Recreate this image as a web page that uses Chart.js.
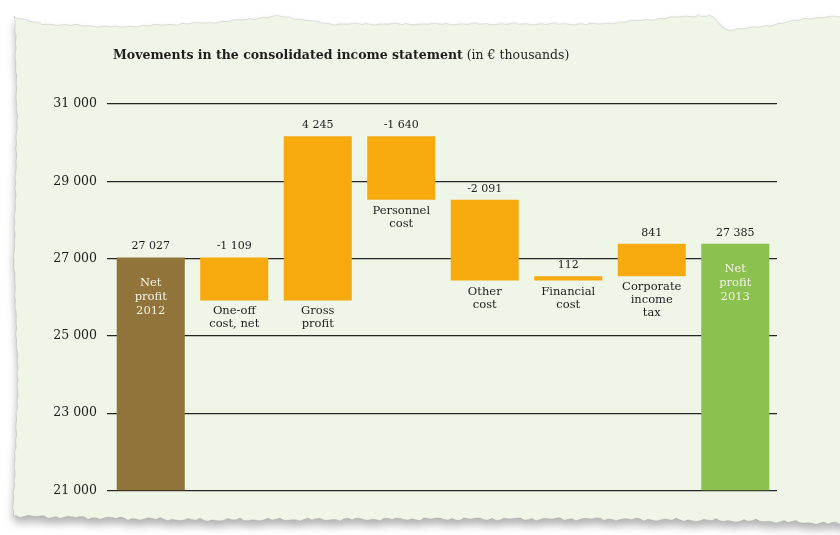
<!DOCTYPE html>
<html>
<head>
<meta charset="utf-8">
<script src="https://cdn.jsdelivr.net/npm/chart.js@4.4.1/dist/chart.umd.min.js"></script>
<style>
  html, body { margin: 0; padding: 0; background: #ffffff; }
  #wrap { width: 840px; height: 535px; position: relative; }
</style>
</head>
<body>
<div id="wrap"><canvas id="chart" width="840" height="535"></canvas></div>
<script>
// chart data
const categories = [
  ['Net', 'profit', '2012'],
  ['One-off', 'cost, net'],
  ['Gross', 'profit'],
  ['Personnel', 'cost'],
  ['Other', 'cost'],
  ['Financial', 'cost'],
  ['Corporate', 'income', 'tax'],
  ['Net', 'profit', '2013']
];
const movements = [27027, -1109, 4245, -1640, -2091, 112, 841, 27385];
const isTotal = [true, false, false, false, false, false, false, true];
const yTicks = [21000, 23000, 25000, 27000, 29000, 31000];

const BROWN = '#907439';
const ORANGE = '#f7aa0e';
const GREEN = '#8bc14e';
const FONT = "'DejaVu Serif', serif";

const fmt = v => String(v).replace(/\B(?=(\d{3})+(?!\d))/g, ' ');

// waterfall ranges
let running = 0;
const ranges = movements.map((v, i) => {
  if (isTotal[i]) { running = v; return [yTicks[0], v]; }
  const start = running;
  running += v;
  return [start, running];
});
const colors = movements.map((v, i) => isTotal[i] ? (i === 0 ? BROWN : GREEN) : ORANGE);

// torn paper background
function wobble(i) {
  return 1.2 * Math.sin(i * 1.9) + 0.9 * Math.sin(i * 0.63 + 1.3) + 0.5 * Math.sin(i * 3.7 + 0.4);
}
function lerpAnchors(anchors, x) {
  for (let k = 0; k < anchors.length - 1; k++) {
    const [x0, y0] = anchors[k], [x1, y1] = anchors[k + 1];
    if (x >= x0 && x <= x1) return y0 + (y1 - y0) * (x - x0) / (x1 - x0);
  }
  return anchors[anchors.length - 1][1];
}
const paperPlugin = {
  id: 'paper',
  beforeDraw(chart) {
    const ctx = chart.ctx;
    const topA = [[12, 16], [40, 24], [120, 27], [220, 22], [280, 16], [330, 24], [600, 24], [690, 16], [712, 16], [725, 30], [760, 27], [810, 18], [850, 16]];
    const botA = [[12, 516], [200, 520], [420, 519], [600, 519], [760, 521], [850, 524]];
    const leftA = [[16, 15], [120, 17], [260, 14], [380, 18], [516, 13]];
    ctx.save();
    ctx.beginPath();
    let i = 0;
    for (let x = 14; x <= 852; x += 4, i++) {
      const y = lerpAnchors(topA, x) + wobble(i) * 0.5;
      x === 14 ? ctx.moveTo(x, y) : ctx.lineTo(x, y);
    }
    for (let x = 852; x >= 14; x -= 4, i++) {
      ctx.lineTo(x, lerpAnchors(botA, x) + wobble(i) * 0.8);
    }
    for (let y = 516; y >= 16; y -= 4, i++) {
      ctx.lineTo(lerpAnchors(leftA, y) + wobble(i) * 0.4, y);
    }
    ctx.closePath();
    ctx.shadowColor = 'rgba(0,0,0,0.3)';
    ctx.shadowBlur = 8;
    ctx.shadowOffsetY = 6;
    ctx.fillStyle = '#eff5e7';
    ctx.fill();
    ctx.shadowColor = 'transparent';
    ctx.strokeStyle = 'rgba(150,150,150,0.35)';
    ctx.lineWidth = 0.8;
    ctx.stroke();
    ctx.restore();

    // title
    ctx.save();
    ctx.fillStyle = '#1e1e1e';
    ctx.textBaseline = 'middle';
    ctx.font = 'bold 12.5px ' + FONT;
    const bold = 'Movements in the consolidated income statement';
    ctx.fillText(bold, 113, 56);
    const w = ctx.measureText(bold).width;
    ctx.font = '12.5px ' + FONT;
    ctx.fillText(' (in € thousands)', 113 + w, 56);
    ctx.restore();
  }
};

const labelPlugin = {
  id: 'labels',
  afterDatasetsDraw(chart) {
    const ctx = chart.ctx;
    const bars = chart.getDatasetMeta(0).data;
    ctx.save();
    ctx.textAlign = 'center';
    ctx.textBaseline = 'middle';
    bars.forEach((bar, i) => {
      const top = Math.min(bar.y, bar.base);
      const bottom = Math.max(bar.y, bar.base);
      ctx.fillStyle = '#1e1e1e';
      ctx.font = '11px ' + FONT;
      ctx.fillText(fmt(movements[i]), bar.x, top - 11);
      ctx.font = '11.5px ' + FONT;
      if (isTotal[i]) {
        ctx.fillStyle = '#f4f1e6';
        categories[i].forEach((t, k) => ctx.fillText(t, bar.x, top + 25 + k * 14));
      } else {
        ctx.fillStyle = '#1e1e1e';
        categories[i].forEach((t, k) => ctx.fillText(t, bar.x, bottom + 11 + k * 13));
      }
    });
    ctx.restore();
  }
};

new Chart(document.getElementById('chart'), {
  type: 'bar',
  data: {
    labels: categories.map(c => c.join(' ')),
    datasets: [{
      data: ranges,
      backgroundColor: colors,
      borderWidth: 0,
      categoryPercentage: 1,
      barPercentage: 0.815
    }]
  },
  options: {
    responsive: false,
    animation: false,
    layout: { padding: { top: 104, right: 63, bottom: 44.5, left: 0 } },
    plugins: { legend: { display: false }, tooltip: { enabled: false } },
    scales: {
      x: { display: false },
      y: {
        min: 21000,
        max: 31000,
        afterBuildTicks: s => { s.ticks = yTicks.map(v => ({ value: v })); },
        afterFit: s => { s.width = 109; },
        border: { display: false },
        grid: { color: '#262626', lineWidth: 1.3, tickLength: 2 },
        ticks: {
          padding: 10,
          color: '#1e1e1e',
          font: { family: FONT, size: 12.5 },
          callback: v => fmt(v)
        }
      }
    }
  },
  plugins: [paperPlugin, labelPlugin]
});
</script>
</body>
</html>
